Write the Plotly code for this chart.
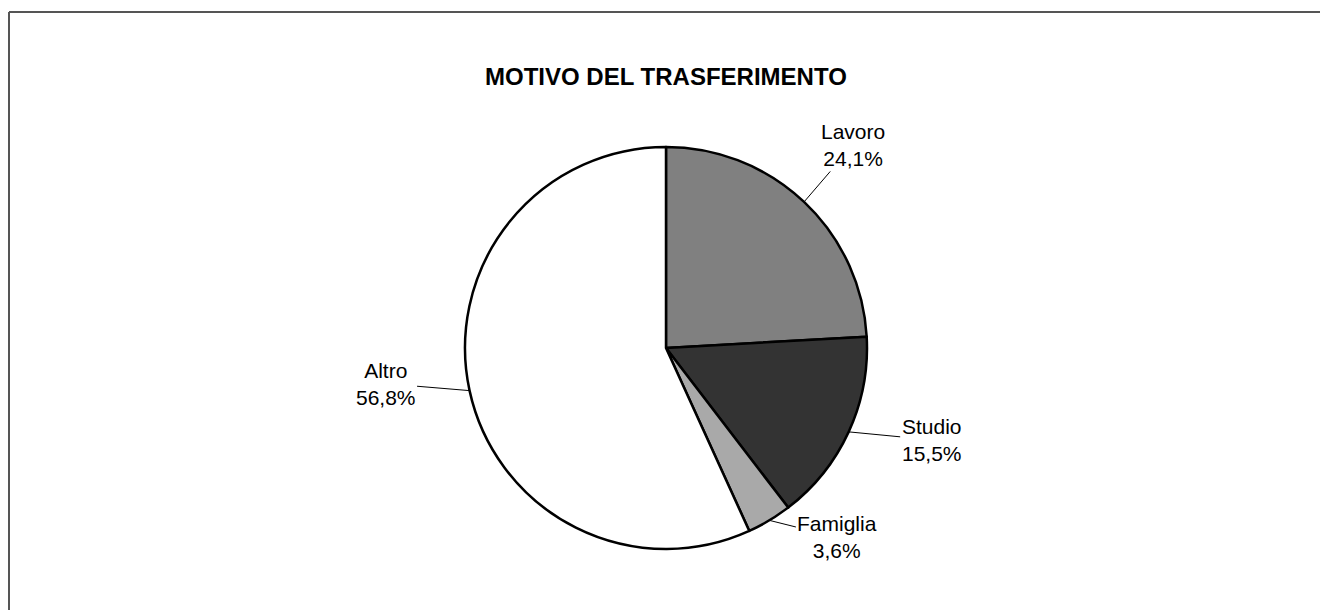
import math
import plotly.graph_objects as go

labels = ["Lavoro", "Studio", "Famiglia", "Altro"]
values = [24.1, 15.5, 3.6, 56.8]
value_text = ["24,1%", "15,5%", "3,6%", "56,8%"]
colors = ["#808080", "#333333", "#a9a9a9", "#ffffff"]
# label text offsets (pixels) from the slice's outer edge midpoint
label_dx = [49, 83, 68, -84]
label_dy = [-57, 8, 17, -7]

W, H = 1320, 610
cx, cy, R = 666, 348, 201

fig = go.Figure()
fig.add_trace(go.Pie(
    labels=labels, values=values, sort=False, direction="clockwise", rotation=0,
    marker=dict(colors=colors, line=dict(color="#000000", width=2.5)),
    textinfo="none", hoverinfo="label+percent", showlegend=False,
    domain=dict(x=[(cx - R) / W, (cx + R) / W], y=[1 - (cy + R) / H, 1 - (cy - R) / H]),
))

total = sum(values)
cum = 0.0
for lab, v, vt, dx, dy in zip(labels, values, value_text, label_dx, label_dy):
    mid = (cum + v / 2) / total * 2 * math.pi
    cum += v
    px = cx + R * math.sin(mid)
    py = cy - R * math.cos(mid)
    fig.add_annotation(
        x=px / W, y=1 - py / H, xref="paper", yref="paper",
        text=f"{lab}<br>{vt}", showarrow=True, arrowhead=0, arrowwidth=1,
        arrowcolor="#000000", ax=dx, ay=dy, standoff=0,
        font=dict(family="Liberation Sans, Arial, sans-serif", size=21, color="#000000"),
        align="center",
    )

fig.add_annotation(
    x=cx / W, y=1 - 76 / H, xref="paper", yref="paper", showarrow=False,
    text="<b>MOTIVO DEL TRASFERIMENTO</b>", xanchor="center", yanchor="middle",
    font=dict(family="Liberation Sans, Arial, sans-serif", size=24, color="#000000"),
)

# outer frame: only top and left edges are visible in the reference
fx, fy = 9 / W, 1 - 12 / H
fig.add_shape(type="line", xref="paper", yref="paper", x0=fx, y0=fy, x1=1.1, y1=fy,
              line=dict(color="#555555", width=2))
fig.add_shape(type="line", xref="paper", yref="paper", x0=fx, y0=fy, x1=fx, y1=-0.1,
              line=dict(color="#555555", width=2))

fig.update_layout(
    width=W, height=H, margin=dict(l=0, r=0, t=0, b=0),
    paper_bgcolor="#ffffff", plot_bgcolor="#ffffff",
)
fig.write_html(
    "out.html",
    config={"displayModeBar": False},
    post_script="document.body.style.margin='0';document.body.style.overflow='hidden';",
)
